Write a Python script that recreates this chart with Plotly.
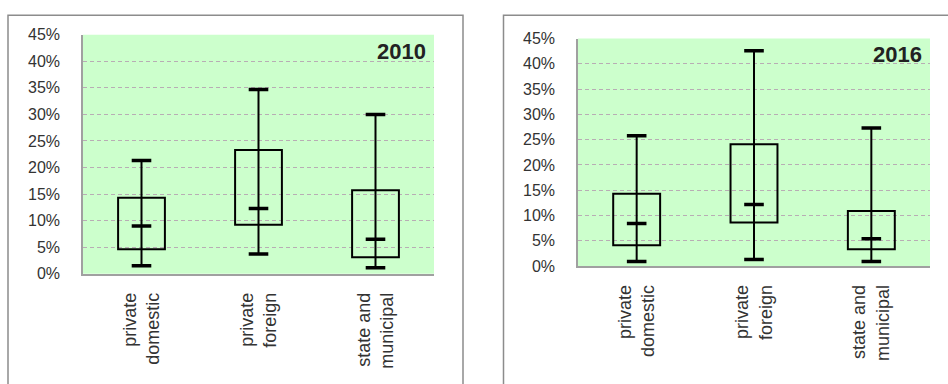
import plotly.graph_objects as go

categories = ["private<br>domestic", "private<br>foreign", "state and<br>municipal"]

# 2010 (percent)
min_2010 = [1.5, 3.7, 1.1]
q1_2010 = [4.6, 9.2, 3.1]
med_2010 = [9.0, 12.3, 6.5]
q3_2010 = [14.3, 23.3, 15.7]
max_2010 = [21.3, 34.7, 30.0]

# 2016 (percent)
min_2016 = [0.9, 1.3, 0.9]
q1_2016 = [4.1, 8.6, 3.3]
med_2016 = [8.4, 12.2, 5.4]
q3_2016 = [14.3, 24.1, 10.9]
max_2016 = [25.8, 42.6, 27.3]

years = ["2010", "2016"]
yticks = [0, 5, 10, 15, 20, 25, 30, 35, 40, 45]

W, H = 948, 384
FONT = "'Liberation Sans', Arial, sans-serif"

fig = go.Figure()

panels = [
    dict(mn=min_2010, q1=q1_2010, md=med_2010, q3=q3_2010, mx=max_2010,
         xd=[83 / W, 434 / W], yd=[1 - 278 / H, 1 - 28 / H]),
    dict(mn=min_2016, q1=q1_2016, md=med_2016, q3=q3_2016, mx=max_2016,
         xd=[578 / W, 930 / W], yd=[1 - 270 / H, 1 - 32 / H]),
]

for i, p in enumerate(panels):
    xa = "x" if i == 0 else "x2"
    ya = "y" if i == 0 else "y2"
    fig.add_trace(go.Bar(
        x=categories, y=[b - a for a, b in zip(p["q1"], p["q3"])], base=p["q1"],
        width=0.4, marker=dict(color="rgba(0,0,0,0)", line=dict(color="black", width=2)),
        xaxis=xa, yaxis=ya, showlegend=False, hoverinfo="skip"))
    fig.add_trace(go.Scatter(
        x=categories, y=p["md"], mode="markers",
        marker=dict(symbol="line-ew", size=14, line=dict(color="black", width=3.5)),
        error_y=dict(type="data", symmetric=False,
                     array=[h - m for h, m in zip(p["mx"], p["md"])],
                     arrayminus=[m - l for m, l in zip(p["md"], p["mn"])],
                     color="black", thickness=2, width=7),
        xaxis=xa, yaxis=ya, showlegend=False, hoverinfo="skip"))
    fig.add_trace(go.Scatter(
        x=categories + categories, y=p["mn"] + p["mx"], mode="markers",
        marker=dict(symbol="line-ew", size=14, line=dict(color="black", width=3.5)),
        xaxis=xa, yaxis=ya, showlegend=False, hoverinfo="skip"))

    xkey = "xaxis" if i == 0 else "xaxis2"
    ykey = "yaxis" if i == 0 else "yaxis2"
    fig.update_layout(**{
        xkey: dict(domain=p["xd"], anchor=ya, range=[-0.5, 2.5], tickangle=-90,
                   showgrid=False, showline=True, linecolor="#a0a0a0", linewidth=1.5,
                   ticks="", tickfont=dict(family=FONT, size=18, color="#333333"),
                   ticklabelstandoff=10, fixedrange=True),
        ykey: dict(domain=p["yd"], anchor=xa, range=[0, 45], tickvals=yticks,
                   ticktext=[f"{v}%" for v in yticks],
                   showgrid=True, gridcolor="#b8adb4", griddash="4px,3px", gridwidth=1,
                   showline=True, linecolor="#a0a0a0", linewidth=1.5, zeroline=False,
                   ticks="", tickfont=dict(family=FONT, size=16, color="#333333"),
                   ticklabelstandoff=18, fixedrange=True),
    })
    fig.add_annotation(text=f"<b>{years[i]}</b>", xref=f"{xa} domain", yref=f"{ya} domain",
                       x=0.983, y=0.93, xanchor="right", yanchor="middle", showarrow=False,
                       font=dict(family=FONT, size=22, color="#222222"))

# plot area background (green) per panel, and chart frames
for p in panels:
    fig.add_shape(type="rect", xref="paper", yref="paper", x0=p["xd"][0], x1=p["xd"][1],
                  y0=p["yd"][0], y1=p["yd"][1], fillcolor="#ccffcc", line=dict(width=0),
                  layer="below")
fig.add_shape(type="rect", xref="paper", yref="paper", x0=8 / W, x1=463 / W,
              y0=-0.2, y1=1 - 7.5 / H, line=dict(color="#8c8c8c", width=1.5))
fig.add_shape(type="rect", xref="paper", yref="paper", x0=503.5 / W, x1=1.2,
              y0=-0.2, y1=1 - 7.5 / H, line=dict(color="#8c8c8c", width=1.5))

fig.update_layout(width=W, height=H, margin=dict(l=0, r=0, t=0, b=0),
                  paper_bgcolor="white", plot_bgcolor="rgba(0,0,0,0)",
                  barmode="overlay", showlegend=False)

fig.write_html("out.html", config={"displayModeBar": False})
